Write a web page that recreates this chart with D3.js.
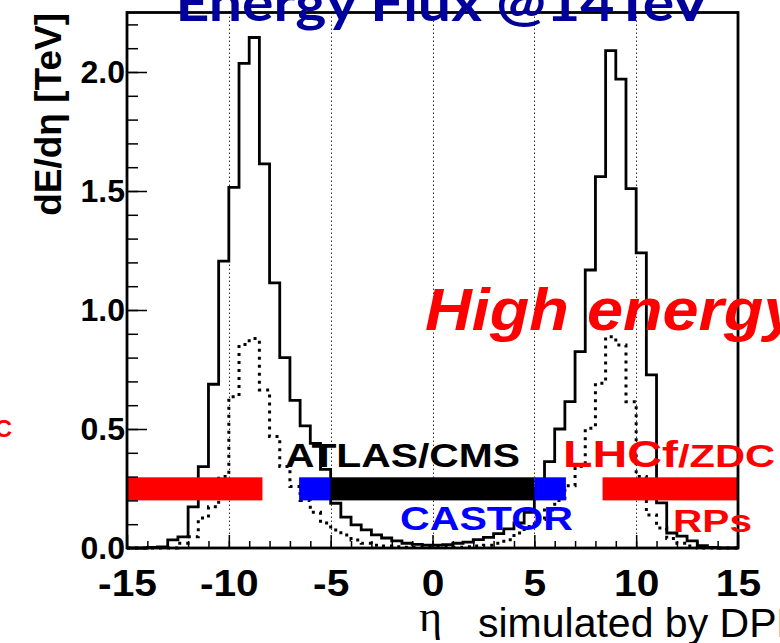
<!DOCTYPE html>
<html>
<head>
<meta charset="utf-8">
<script src="https://cdn.jsdelivr.net/npm/d3@7"></script>
<style>
body { margin: 0; background: #fff; }
svg { display: block; font-family: "Liberation Sans", Arial, sans-serif; }
</style>
</head>
<body>
<svg width="780" height="643"></svg>
<script>
// ************** Data *****************

// lower edge of each eta bin (bins are 0.5 wide)
const binLow = [
  -15, -14.5, -14, -13.5, -13, -12.5, -12, -11.5, -11, -10.5,
  -10, -9.5, -9, -8.5, -8, -7.5, -7, -6.5, -6, -5.5,
  -5, -4.5, -4, -3.5, -3, -2.5, -2, -1.5, -1, -0.5,
  0, 0.5, 1, 1.5, 2, 2.5, 3, 3.5, 4, 4.5,
  5, 5.5, 6, 6.5, 7, 7.5, 8, 8.5, 9, 9.5,
  10, 10.5, 11, 11.5, 12, 12.5, 13, 13.5, 14, 14.5
];
const binWidth = 0.5;

// dE/deta [TeV], solid histogram
const fluxSolid = [
  0, 0, 0.002, 0.005, 0.034, 0.047, 0.173, 0.342, 0.688, 1.205,
  1.515, 2.036, 2.145, 1.614, 1.114, 0.80, 0.62, 0.513, 0.44, 0.33,
  0.188, 0.13, 0.097, 0.076, 0.055, 0.042, 0.03, 0.02, 0.015, 0.012,
  0.012, 0.014, 0.02, 0.025, 0.035, 0.045, 0.06, 0.08, 0.105, 0.15,
  0.25, 0.363, 0.50, 0.615, 0.825, 1.168, 1.56, 2.09, 1.97, 1.51,
  1.24, 0.727, 0.19, 0.063, 0.05, 0.03, 0.01, 0.003, 0, 0
];

// dE/deta [TeV], dotted histogram
const fluxDotted = [
  0, 0, 0, 0, 0, 0.02, 0.047, 0.126, 0.173, 0.30,
  0.636, 0.855, 0.88, 0.664, 0.468, 0.342, 0.258, 0.20, 0.15, 0.105,
  0.076, 0.055, 0.034, 0.02, 0.012, 0.008, 0.005, 0.003, 0.002, 0.002,
  0.002, 0.002, 0.003, 0.005, 0.008, 0.012, 0.02, 0.035, 0.063, 0.09,
  0.12, 0.16, 0.2, 0.262, 0.342, 0.503, 0.692, 0.888, 0.853, 0.615,
  0.30, 0.139, 0.084, 0.04, 0.02, 0.008, 0, 0, 0, 0
];

// detector acceptance bars
const detectorNames = ["LHCf/ZDC", "CASTOR", "ATLAS/CMS", "CASTOR", "LHCf/ZDC"];
const detectorEtaMin = [-15, -6.55, -5, 5, 8.35];
const detectorEtaMax = [-8.35, -5, 5, 6.55, 15];
const bandLow = 0.2;
const bandHigh = 0.297;

// axis ticks
const xTicks = [-15, -10, -5, 0, 5, 10, 15];
const xTickLabels = ["-15", "-10", "-5", "0", "5", "10", "15"];
const xGrid = [-10, -5, 0, 5, 10];
const yTicks = [0, 0.5, 1.0, 1.5, 2.0];
const yTickLabels = ["0.0", "0.5", "1.0", "1.5", "2.0"];


// *************** Graph Setup *****************

let svg = d3.select("svg");

const plotLeft = 127, plotRight = 738, plotTop = 12.5, plotBottom = 548;

let xScale = d3.scaleLinear()
    .domain([-15, 15])
    .range([plotLeft, plotRight]);

let yScale = d3.scaleLinear()
    .domain([0, 2.25])
    .range([plotBottom, plotTop]);

let chart = svg.append("g");

// dotted grid lines
chart.selectAll(".grid")
    .data(xGrid)
    .enter().append("line")
    .attr("class", "grid")
    .attr("x1", d => Math.round(xScale(d)) + 0.5).attr("x2", d => Math.round(xScale(d)) + 0.5)
    .attr("y1", plotTop).attr("y2", plotBottom)
    .attr("stroke", "#333")
    .attr("stroke-width", 1)
    .attr("stroke-dasharray", "1.5,2.5");

// histograms as step lines
function histPoints(values) {
    let pts = binLow.map((b, i) => [b, values[i]]);
    pts.push([binLow[binLow.length - 1] + binWidth, values[values.length - 1]]);
    return pts;
}

let step = d3.line()
    .x(d => xScale(d[0]))
    .y(d => yScale(d[1]))
    .curve(d3.curveStepAfter);

chart.append("path")
    .attr("d", step(histPoints(fluxDotted)))
    .attr("fill", "none")
    .attr("stroke", "#000")
    .attr("stroke-width", 3)
    .attr("stroke-dasharray", "3,5");

chart.append("path")
    .attr("d", step(histPoints(fluxSolid)))
    .attr("fill", "none")
    .attr("stroke", "#000")
    .attr("stroke-width", 2.8);

// detector bars
const barColor = {"LHCf/ZDC": "#ff0000", "CASTOR": "#0000ff", "ATLAS/CMS": "#000000"};
chart.selectAll(".det")
    .data(detectorNames)
    .enter().append("rect")
    .attr("class", "det")
    .attr("x", (d, i) => xScale(detectorEtaMin[i]))
    .attr("width", (d, i) => xScale(detectorEtaMax[i]) - xScale(detectorEtaMin[i]))
    .attr("y", yScale(bandHigh))
    .attr("height", yScale(bandLow) - yScale(bandHigh))
    .attr("fill", d => barColor[d]);

// axes: y ticks inside, labels left
chart.append("g")
    .attr("transform", "translate(" + plotLeft + ",0)")
    .call(d3.axisLeft(yScale).tickValues(d3.range(0.1, 2.25, 0.1)).tickSize(-11).tickFormat(""))
    .call(g => g.select(".domain").remove())
    .call(g => g.selectAll("line").attr("stroke-width", 1.5));

chart.append("g")
    .attr("transform", "translate(" + plotLeft + ",0)")
    .call(d3.axisLeft(yScale).tickValues(yTicks).tickSize(-20).tickPadding(2)
        .tickFormat((d, i) => yTickLabels[i]))
    .call(g => g.select(".domain").remove())
    .call(g => g.selectAll("line").attr("stroke-width", 1.5))
    .call(g => g.selectAll("text")
        .attr("font-family", "'Liberation Sans', Arial, sans-serif")
        .attr("font-weight", "bold")
        .attr("font-size", 32)
        .attr("fill", "#000"));

chart.append("g")
    .attr("transform", "translate(0," + plotBottom + ")")
    .call(d3.axisBottom(xScale).tickValues(d3.range(-14, 15, 1)).tickSize(-7).tickFormat(""))
    .call(g => g.select(".domain").remove())
    .call(g => g.selectAll("line").attr("stroke-width", 1.5));

chart.append("g")
    .attr("transform", "translate(0," + plotBottom + ")")
    .call(d3.axisBottom(xScale).tickValues(xTicks).tickSize(-13).tickPadding(22)
        .tickFormat((d, i) => xTickLabels[i]))
    .call(g => g.select(".domain").remove())
    .call(g => g.selectAll("line").attr("stroke-width", 1.5))
    .call(g => g.selectAll("text")
        .attr("font-family", "'Liberation Sans', Arial, sans-serif")
        .attr("font-weight", "bold")
        .attr("font-size", 37)
        .attr("transform", "scale(1.1,1)")
        .attr("fill", "#000"));

// frame
chart.append("rect")
    .attr("x", plotLeft).attr("y", plotTop)
    .attr("width", plotRight - plotLeft).attr("height", plotBottom - plotTop)
    .attr("fill", "none")
    .attr("stroke", "#000")
    .attr("stroke-width", 2.8);

// ************** Labels *****************

svg.append("text")
    .attr("x", 443).attr("y", 21)
    .attr("text-anchor", "middle")
    .attr("font-family", "Lato, 'Open Sans', sans-serif")
    .attr("font-weight", "bold")
    .attr("font-size", 52)
    .attr("fill", "#00009c")
    .attr("textLength", 535)
    .attr("lengthAdjust", "spacingAndGlyphs")
    .text("Energy Flux @14TeV");

svg.append("text")
    .attr("transform", "translate(61,13) rotate(-90)")
    .attr("text-anchor", "end")
    .attr("font-weight", "bold")
    .attr("font-size", 37)
    .text("dE/dη [TeV]");

svg.append("text")
    .attr("transform", "translate(425,330) scale(1.08,1)")
    .attr("font-weight", "bold")
    .attr("font-style", "italic")
    .attr("font-size", 60)
    .attr("fill", "#ff0000")
    .text("High energy flux");

svg.append("text")
    .attr("x", 285).attr("y", 467)
    .attr("font-weight", "bold")
    .attr("font-size", 33)
    .attr("textLength", 235)
    .attr("lengthAdjust", "spacingAndGlyphs")
    .text("ATLAS/CMS");

svg.append("text")
    .attr("x", 400).attr("y", 530)
    .attr("font-weight", "bold")
    .attr("font-size", 33)
    .attr("fill", "#0000ff")
    .attr("textLength", 173)
    .attr("lengthAdjust", "spacingAndGlyphs")
    .text("CASTOR");

let lhcf = svg.append("text")
    .attr("x", 563).attr("y", 467)
    .attr("font-weight", "bold")
    .attr("fill", "#ff0000")
    .attr("textLength", 212)
    .attr("lengthAdjust", "spacingAndGlyphs");
lhcf.append("tspan").attr("font-size", 37).text("LHCf");
lhcf.append("tspan").attr("font-size", 32).text("/ZDC");

svg.append("text")
    .attr("x", 673).attr("y", 532)
    .attr("font-weight", "bold")
    .attr("font-size", 31)
    .attr("fill", "#ff0000")
    .attr("textLength", 79)
    .attr("lengthAdjust", "spacingAndGlyphs")
    .text("RPs");

svg.append("text")
    .attr("x", 12).attr("y", 437)
    .attr("text-anchor", "end")
    .attr("font-weight", "bold")
    .attr("font-size", 24)
    .attr("fill", "#ff0000")
    .text("LHCf/ZDC");

svg.append("text")
    .attr("x", 419).attr("y", 631)
    .attr("font-family", "'Liberation Serif', 'DejaVu Serif', serif")
    .attr("font-size", 44)
    .text("η");

svg.append("text")
    .attr("x", 478).attr("y", 637)
    .attr("font-size", 41)
    .text("simulated by DPMJET3");
</script>
</body>
</html>
